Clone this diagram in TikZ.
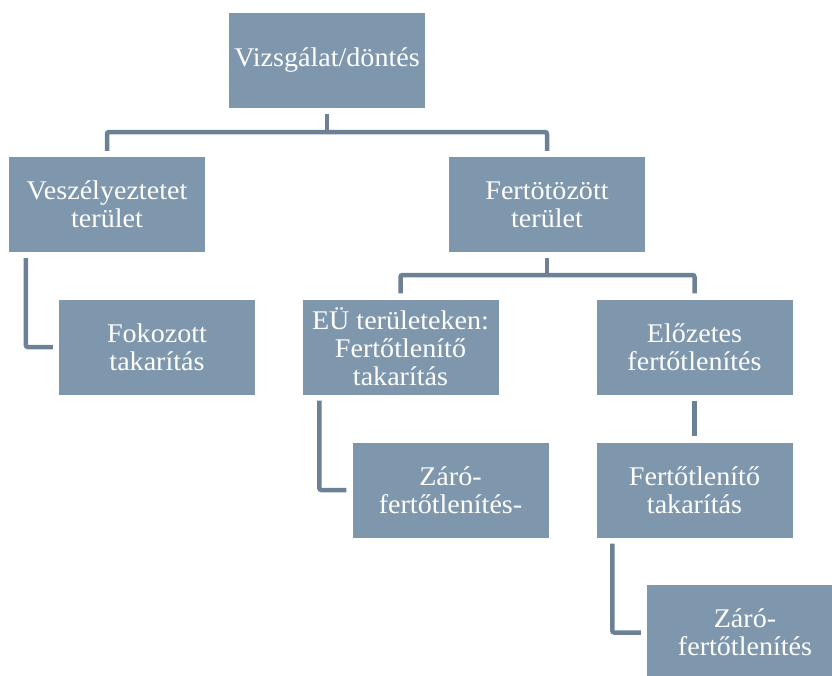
\documentclass[tikz,border=0pt]{standalone}
\usepackage{fontspec}
\setmainfont{Liberation Serif}[FakeStretch=1.04]
\definecolor{boxfill}{RGB}{127,151,173}
\definecolor{linecol}{RGB}{108,128,150}
\begin{document}
\begin{tikzpicture}[x=1pt, y=-1pt,
    box/.style={fill=boxfill, text=white, minimum width=196pt, minimum height=95pt,
      inner sep=0pt, align=center, font=\fontsize{27}{28}\selectfont},
    conn/.style={draw=linecol, line width=4.5pt, rounded corners=2pt}]
  \useasboundingbox (0,0) rectangle (832,675);
  \clip (0,0) rectangle (832,675);
  \node[box] (root) at (327,60.5) {Vizsgálat/döntés};
  \node[box] (vesz) at (107,204.5) {Veszélyeztetet\\terület};
  \node[box] (fert) at (547,204.5) {Fertötözött\\terület};
  \node[box] (fok) at (157,347) {Fokozott\\takarítás};
  \node[box] (eu) at (400.5,347) {EÜ területeken:\\Fertőtlenítő\\takarítás};
  \node[box] (elo) at (694.5,347) {Előzetes\\fertőtlenítés};
  \node[box] (zaro1) at (450.5,490) {Záró-\\fertőtlenítés-};
  \node[box] (ftak) at (694.5,490) {Fertőtlenítő\\takarítás};
  \node[box] (zaro2) at (745,632.5) {Záró-\\fertőtlenítés};
  \coordinate (bus1) at (327,132);
  \coordinate (bus2) at (547,275);
  \draw[conn] ([yshift=-6pt]root.south) -- (bus1);
  \draw[conn] (bus1) -| ([yshift=6pt]vesz.north);
  \draw[conn] (bus1) -| ([yshift=6pt]fert.north);
  \draw[conn] ([xshift=17pt,yshift=-6pt]vesz.south west) |- ([xshift=-6pt]fok.west);
  \draw[conn] ([yshift=-6pt]fert.south) -- (bus2);
  \draw[conn] (bus2) -| ([yshift=6pt]eu.north);
  \draw[conn] (bus2) -| ([yshift=6pt]elo.north);
  \draw[conn] ([xshift=17pt,yshift=-6pt]eu.south west) |- ([xshift=-6pt]zaro1.west);
  \draw[conn] ([yshift=-6pt]elo.south) -- ([yshift=6pt]ftak.north);
  \draw[conn] ([xshift=16pt,yshift=-6pt]ftak.south west) |- ([xshift=-6pt]zaro2.west);
\end{tikzpicture}
\end{document}
